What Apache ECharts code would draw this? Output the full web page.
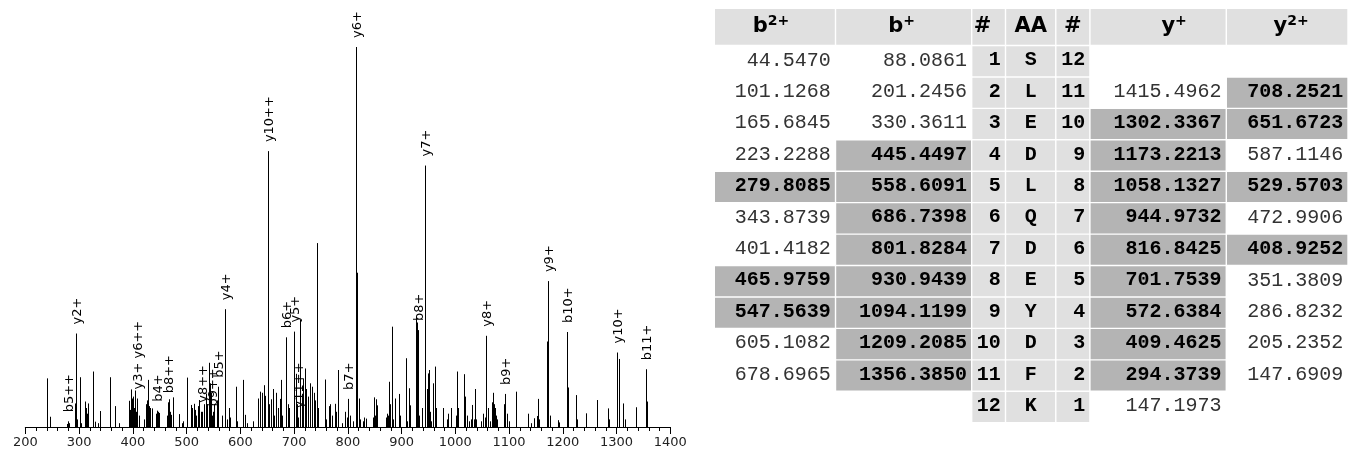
<!DOCTYPE html>
<html>
<head>
<meta charset="utf-8">
<script src="https://cdn.jsdelivr.net/npm/echarts@6/dist/echarts.min.js"></script>
<style>
html,body{margin:0;padding:0;background:#fff;}
#chart{width:1348px;height:450px;}
</style>
</head>
<body>
<div id="chart"></div>
<script>
// ---------------- DATA ----------------
// Spectrum peaks: m/z, relative intensity (%), annotation ('' = none)
const peakMz = [
  242.2, 247.3, 278.3, 279.8, 282.3, 293.7, 294.4, 296.9, 302.3, 304.9,
  311.8, 313.5, 315.1, 316.5, 317.3, 326.0, 329.7, 337.1, 340.8, 357.6, 368.7, 374.9,
  393.5, 395.8, 397.9, 399.5, 401.0, 402.5, 404.1, 405.8, 407.0, 409.2, 412.3,
  421.8, 425.8, 427.3, 428.9, 430.3, 432.0, 436.3, 444.0, 445.4, 447.5, 449.3,
  465.0, 466.0, 467.9, 469.5, 472.3, 476.6, 486.5, 492.3, 494.0, 501.4,
  509.5, 511.8, 514.4, 516.6, 519.3, 522.3, 525.0, 527.3, 528.5, 529.6, 534.3, 537.5,
  539.8, 541.8, 543.6, 545.1, 546.5, 547.6, 550.3, 552.9, 557.3, 558.6, 567.3, 572.6,
  575.3, 579.3, 582.3, 592.0, 594.3,
  605.6, 610.6, 613.3, 624.2, 633.5, 638.5, 641.0, 644.1, 647.8, 651.7, 654.3, 658.3,
  661.3, 663.3, 668.0, 670.3, 673.9, 677.0, 679.3, 686.7, 690.0, 691.3,
  701.75, 704.9, 706.8, 708.25, 712.9, 714.8, 717.3, 720.5, 723.5, 726.3, 729.7, 731.5,
  735.0, 737.7, 739.3, 743.3, 745.3, 758.9, 761.3, 765.8, 768.3, 771.3, 776.2, 778.3,
  783.6, 790.3, 796.6, 799.3, 801.8, 805.3,
  810.3, 815.3, 816.8, 818.2, 821.8, 823.3, 828.3, 831.3, 834.3, 847.3, 849.3, 851.3,
  853.8, 855.8, 871.3, 873.8, 876.3, 878.5, 880.1, 882.8, 884.3, 889.1, 897.1, 898.8,
  908.3, 910.3, 913.9, 916.3, 927.3, 928.2, 929.6, 930.9, 933.8, 939.3, 945.0, 947.8,
  949.3, 951.6, 953.3, 956.3, 960.3, 962.3, 963.5, 965.3, 977.7, 985.3, 987.8, 992.3,
  1002.8, 1004.4, 1006.8, 1018.0, 1019.3, 1022.3, 1027.3, 1030.3, 1032.3, 1036.3, 1038.5, 1040.3,
  1049.3, 1053.3, 1056.3, 1058.1, 1061.3, 1066.3, 1068.3, 1070.8, 1072.3, 1074.3, 1076.3, 1078.3,
  1092.3, 1094.1, 1097.3, 1101.3,
  1114.2, 1137.1, 1142.3, 1147.3, 1152.3, 1154.5, 1156.3, 1171.3, 1173.2, 1176.3, 1191.3, 1193.3,
  1209.2, 1210.6, 1225.8, 1227.3, 1244.4, 1263.8, 1284.7, 1286.3,
  1302.3, 1304.6, 1312.6, 1317.3, 1336.2, 1356.4, 1358.3
];
const peakIntensity = [
  12.8, 2.7, 0.8, 1.5, 1.0, 6.2, 24.6, 2.0, 13.1, 1.0,
  6.7, 5.0, 3.5, 2.5, 6.2, 14.6, 1.4, 1.0, 4.2, 13.1, 5.5, 1.0,
  6.9, 4.5, 9.9, 7.5, 8.0, 5.0, 9.6, 6.0, 4.0, 7.5, 3.0,
  2.0, 6.0, 7.0, 12.4, 5.5, 5.0, 4.9, 3.5, 4.3, 4.0, 3.7,
  3.0, 6.5, 7.3, 4.0, 3.2, 7.8, 3.4, 1.0, 1.5, 13.0,
  5.8, 5.0, 6.1, 4.5, 3.0, 5.5, 7.1, 4.0, 3.0, 4.0, 6.0, 8.8,
  6.0, 16.9, 11.5, 11.5, 9.0, 3.0, 4.0, 6.0, 7.0, 10.6, 3.0, 31.0,
  2.0, 5.0, 2.5, 10.6, 1.5,
  12.4, 3.2, 1.0, 1.5, 7.5, 9.3, 9.0, 11.0, 8.2, 72.6, 6.0, 7.3,
  10.0, 3.0, 9.0, 5.0, 7.4, 12.4, 3.0, 23.6, 6.0, 5.0,
  25.1, 14.0, 6.0, 2.5, 28.2, 8.0, 12.8, 15.4, 10.0, 8.0, 11.5, 9.0,
  10.6, 9.0, 7.0, 48.4, 5.0, 12.5, 2.0, 5.5, 6.0, 3.0, 6.1, 4.0,
  15.0, 1.0, 4.0, 2.5, 7.4, 3.0,
  1.5, 2.0, 100, 40.6, 7.5, 2.0, 1.5, 2.5, 2.2, 2.5, 7.8, 3.0,
  7.3, 5.7, 2.5, 3.5, 3.0, 11.9, 6.0, 26.4, 2.0, 7.5, 8.7, 3.0,
  18.1, 1.5, 10.2, 5.7, 5.0, 29.0, 27.5, 25.5, 3.0, 5.0, 68.8, 10.0,
  14.1, 15.0, 4.0, 1.5, 11.5, 12.0, 15.9, 5.0, 5.0, 2.0, 3.5, 5.0,
  3.0, 14.6, 5.0, 13.9, 8.0, 3.0, 1.5, 2.0, 5.8, 2.0, 10.0, 2.0,
  1.5, 3.5, 2.5, 24.0, 5.0, 1.5, 6.5, 9.0, 6.0, 5.0, 3.0, 2.0,
  6.0, 8.7, 3.5, 1.5,
  9.3, 3.5, 1.0, 2.3, 2.9, 7.4, 2.0, 22.5, 38.4, 3.0, 1.8, 1.2,
  25.0, 10.4, 8.4, 2.0, 3.6, 7.1, 4.9, 2.0,
  19.6, 17.9, 6.2, 2.0, 5.2, 15.2, 6.7
];
const peakLabel = {
  279.8: 'b5++', 294.4: 'y2+', 409.2: 'y3+ y6++', 445.4: 'b4+', 466.0: 'b8++',
  529.6: 'y8++', 547.6: 'b9++', 558.6: 'b5+', 572.6: 'y4+', 651.7: 'y10++',
  686.7: 'b6+', 701.75: 'y5+', 708.25: 'y11++', 801.8: 'b7+', 816.8: 'y6+',
  930.9: 'b8+', 945.0: 'y7+', 1058.1: 'y8+', 1094.1: 'b9+', 1173.2: 'y9+',
  1209.2: 'b10+', 1302.3: 'y10+', 1356.4: 'b11+'
};

// Fragment table
const tableHeaders = ['b2+', 'b+', '#', 'AA', '#', 'y+', 'y2+'];
const residues = ['S', 'L', 'E', 'D', 'L', 'Q', 'D', 'E', 'Y', 'D', 'F', 'K'];
const bDouble = [44.5470, 101.1268, 165.6845, 223.2288, 279.8085, 343.8739, 401.4182, 465.9759, 547.5639, 605.1082, 678.6965, null];
const bSingle = [88.0861, 201.2456, 330.3611, 445.4497, 558.6091, 686.7398, 801.8284, 930.9439, 1094.1199, 1209.2085, 1356.3850, null];
const ySingle = [null, 1415.4962, 1302.3367, 1173.2213, 1058.1327, 944.9732, 816.8425, 701.7539, 572.6384, 409.4625, 294.3739, 147.1973];
const yDouble = [null, 708.2521, 651.6723, 587.1146, 529.5703, 472.9906, 408.9252, 351.3809, 286.8232, 205.2352, 147.6909, null];
const bDoubleMatched = [0, 0, 0, 0, 1, 0, 0, 1, 1, 0, 0, 0];
const bSingleMatched = [0, 0, 0, 1, 1, 1, 1, 1, 1, 1, 1, 0];
const ySingleMatched = [0, 0, 1, 1, 1, 1, 1, 1, 1, 1, 1, 0];
const yDoubleMatched = [0, 1, 1, 0, 1, 0, 1, 0, 0, 0, 0, 0];

// ---------------- LAYOUT / STYLE ----------------
const COL_EDGES = [0, 121.5, 258.0, 291.9, 342.3, 376.5, 513.2, 635.2];
const ROW_EDGES = [0, 37.2];
for (let i = 1; i <= 12; i++) ROW_EDGES.push(37.2 + i * 31.43);
const GAP = 0.7;
const COL_ALIGN = ['right', 'right', 'right', 'center', 'right', 'right', 'right'];
const HEAD_SHIFT = [-4, -2, -6, 0, 0, 16, 4];
const C_HEAD = '#e0e0e0', C_HIT = '#b4b4b4';
const MONO = '"Liberation Mono", "DejaVu Sans Mono", monospace';
const SANS = '"DejaVu Sans", sans-serif';

// build table cells
const cells = [];
tableHeaders.forEach((h, c) => cells.push({ c, r: 0, kind: 'head', text: h }));
for (let i = 0; i < 12; i++) {
  const r = i + 1;
  const num = (v, hit) => v == null ? { kind: 'empty', text: '' } : { kind: hit ? 'hit' : 'miss', text: v.toFixed(4) };
  cells.push(Object.assign({ c: 0, r }, num(bDouble[i], bDoubleMatched[i])));
  cells.push(Object.assign({ c: 1, r }, num(bSingle[i], bSingleMatched[i])));
  cells.push({ c: 2, r, kind: 'idx', text: String(i + 1) });
  cells.push({ c: 3, r, kind: 'idx', text: residues[i] });
  cells.push({ c: 4, r, kind: 'idx', text: String(12 - i) });
  cells.push(Object.assign({ c: 5, r }, num(ySingle[i], ySingleMatched[i])));
  cells.push(Object.assign({ c: 6, r }, num(yDouble[i], yDoubleMatched[i])));
}

function headRich(h) {
  const m = h.match(/^([a-z])(\d?\+)$/);
  return m ? '{m|' + m[1] + '}{s|' + m[2] + '}' : '{m|' + h + '}';
}

function renderPeak(params, api) {
  const mz = api.value(0), inten = api.value(1);
  const base = api.coord([mz, 0]);
  const top = api.coord([mz, inten]);
  const x = Math.floor(base[0]) + 0.5;
  const children = [{
    type: 'line',
    shape: { x1: x, y1: base[1], x2: x, y2: top[1] },
    style: { stroke: '#000', lineWidth: 1 }
  }];
  const lab = peakLabel[peakMz[params.dataIndex]];
  if (lab) {
    children.push({
      type: 'text', x: x + 1.5, y: top[1] - 9, rotation: Math.PI / 2, z2: 10,
      style: { text: lab, font: '13px ' + SANS, fill: '#000', align: 'left', verticalAlign: 'middle' }
    });
  }
  return { type: 'group', children };
}

function renderCell(params, api) {
  const d = cells[params.dataIndex];
  const p0 = api.coord([COL_EDGES[d.c] + GAP, ROW_EDGES[d.r] + GAP]);
  const p1 = api.coord([COL_EDGES[d.c + 1] - GAP, ROW_EDGES[d.r + 1] - GAP]);
  const fill = (d.kind === 'head' || d.kind === 'idx') ? C_HEAD : (d.kind === 'hit' ? C_HIT : '#ffffff');
  const children = [{
    type: 'rect',
    shape: { x: p0[0], y: p0[1], width: p1[0] - p0[0], height: p1[1] - p0[1] },
    style: { fill }
  }];
  const cy = (p0[1] + p1[1]) / 2;
  if (d.kind === 'head') {
    children.push({
      type: 'text', x: (p0[0] + p1[0]) / 2 + HEAD_SHIFT[d.c], y: cy,
      style: {
        text: headRich(d.text), align: 'center', verticalAlign: 'middle',
        rich: {
          m: { fontFamily: SANS, fontWeight: 'bold', fontSize: 21, fill: '#000', lineHeight: 26, verticalAlign: 'middle' },
          s: { fontFamily: SANS, fontWeight: 'bold', fontSize: 14, fill: '#000', lineHeight: 14, verticalAlign: 'top' }
        }
      }
    });
  } else if (d.text) {
    const align = COL_ALIGN[d.c];
    const tx = align === 'center' ? (p0[0] + p1[0]) / 2 : p1[0] - 4;
    const bold = d.kind !== 'miss';
    children.push({
      type: 'text', x: tx, y: cy - 1,
      style: {
        text: d.text, align, verticalAlign: 'middle',
        font: (bold ? 'bold ' : '') + '20px ' + MONO,
        fill: bold ? '#000' : '#333'
      }
    });
  }
  return { type: 'group', children };
}

const chart = echarts.init(document.getElementById('chart'), null, { renderer: 'canvas' });
chart.setOption({
  animation: false,
  backgroundColor: '#fff',
  grid: [
    { left: 25.3, top: 47, width: 645, height: 380 },
    { left: 714.3, top: 8.3, width: 635.2, height: 414.4 }
  ],
  xAxis: [
    {
      gridIndex: 0, type: 'value', min: 200, max: 1400, interval: 100,
      axisLine: { show: true, lineStyle: { color: '#000', width: 1 } },
      axisTick: { show: true, length: 7, lineStyle: { color: '#000' } },
      minorTick: { show: true, splitNumber: 5, length: 4, lineStyle: { color: '#000' } },
      axisLabel: {
        color: '#222', fontSize: 13, fontFamily: SANS, margin: 9, showMinLabel: true, showMaxLabel: true,
        formatter: v => String(v)
      },
      splitLine: { show: false }, minorSplitLine: { show: false }
    },
    { gridIndex: 1, type: 'value', min: 0, max: 635.2, show: false }
  ],
  yAxis: [
    { gridIndex: 0, type: 'value', min: 0, max: 100, show: false },
    { gridIndex: 1, type: 'value', min: 0, max: 414.36, inverse: true, show: false }
  ],
  series: [
    {
      type: 'custom', xAxisIndex: 0, yAxisIndex: 0, clip: false, progressive: 0,
      data: peakMz.map((m, i) => [m, peakIntensity[i]]),
      renderItem: renderPeak
    },
    {
      type: 'custom', xAxisIndex: 1, yAxisIndex: 1, clip: false, progressive: 0,
      data: cells.map(d => [d.c, d.r]),
      renderItem: renderCell
    }
  ]
});
</script>
</body>
</html>
